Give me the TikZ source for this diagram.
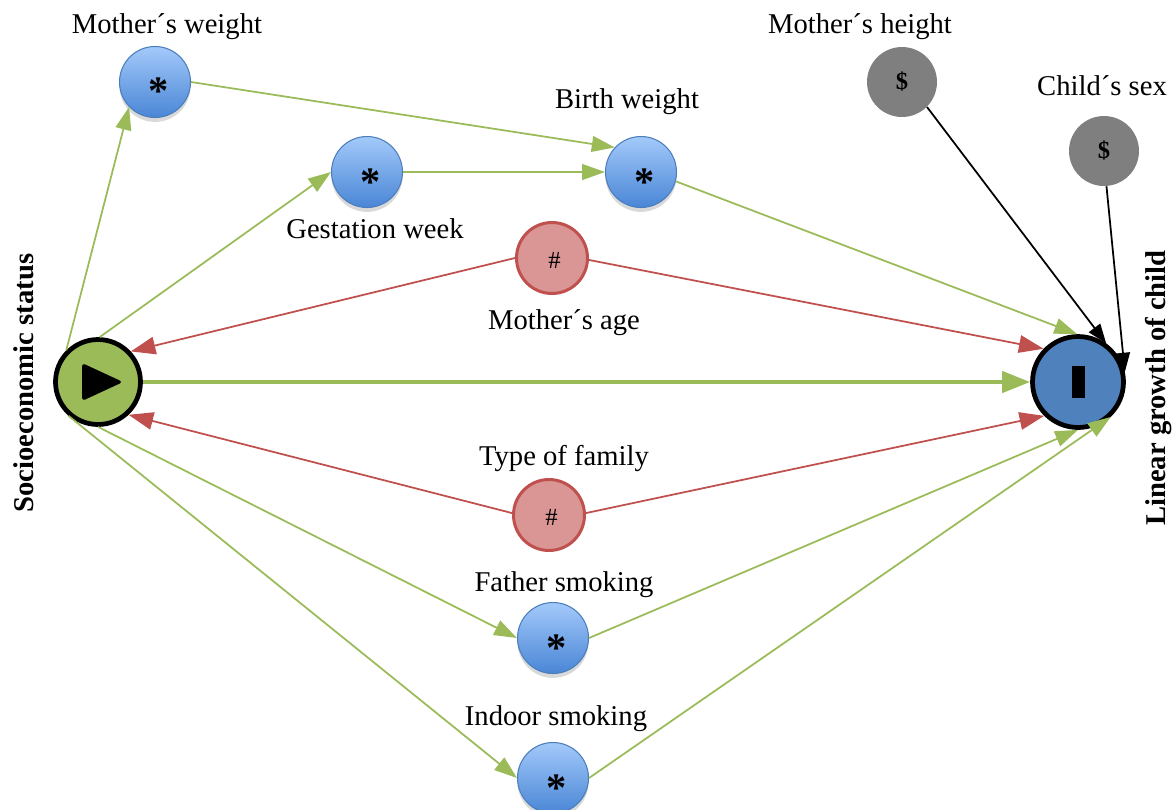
\documentclass[tikz,border=0pt]{standalone}
\usepackage{fontspec}
\setmainfont{Liberation Serif}
\usetikzlibrary{arrows.meta,shadows}
\definecolor{dagGreen}{HTML}{9BBB59}
\definecolor{outBlue}{HTML}{4F81BD}
\definecolor{medTop}{HTML}{A3C9FA}
\definecolor{medBottom}{HTML}{4A86D6}
\definecolor{medBorder}{HTML}{4A7EBB}
\definecolor{confLine}{HTML}{C0504D}
\definecolor{confFill}{HTML}{D99694}
\definecolor{covGray}{HTML}{7F7F7F}

\begin{document}
\begin{tikzpicture}
  [x=0.02cm,y=-0.02cm,every node/.style={font=\fontsize{16.3}{19}\selectfont}]
 \tikzset{expo/.style = {circle,inner sep=0pt,minimum size=1.7cm,draw=black,line width=2.7pt,fill=dagGreen},
   outc/.style = {circle,inner sep=0pt,minimum size=1.82cm,draw=black,line width=2.7pt,fill=outBlue},
   med/.style = {circle,inner sep=0pt,minimum size=1.42cm,draw=medBorder,line width=0.6pt,
     top color=medTop,bottom color=medBottom,
     drop shadow={shadow xshift=0pt,shadow yshift=-2.5pt,opacity=0.25,fill=black!60}},
   conf/.style = {circle,inner sep=0pt,minimum size=1.42cm,draw=confLine,line width=1.7pt,fill=confFill},
   cov/.style = {circle,inner sep=0pt,minimum size=1.4cm,fill=covGray},
   astlabel/.style = {label={[font=\fontsize{23}{23}\bfseries\selectfont,xshift=2.2pt,yshift=-5.5pt]center:*}},
   hashlabel/.style = {label={[font=\fontsize{14}{14}\selectfont,xshift=1.5pt,yshift=-1.5pt]center:\#}},
   dollarlabel/.style = {label={[font=\fontsize{14}{14}\bfseries\selectfont]center:\$}},
   lbl/.style = {anchor=base},
   side/.style = {font=\fontsize{16.3}{19}\bfseries\selectfont,rotate=90},
   edge/.style = {draw=dagGreen,line width=1pt,-{Triangle[length=13pt,width=9pt]}},
   mainedge/.style = {draw=dagGreen,line width=2.5pt,-{Triangle[length=16pt,width=12pt]}},
   redge/.style = {draw=confLine,line width=1pt,-{Triangle[length=14pt,width=10pt]}},
   bedge/.style = {draw=black,line width=1pt,-{Triangle[length=11pt,width=8pt]}}}
  \useasboundingbox (0,0) rectangle (1176,809);

  \node[expo] (exp) at (98,382) {};
  \node[outc] (out) at (1078,382) {\rule{0.26cm}{0.64cm}};
  \node[med,astlabel] (mw) at (155,82) {};
  \node[med,astlabel] (gw) at (367,172) {};
  \node[med,astlabel] (bw) at (641,172) {};
  \node[conf,hashlabel] (ma) at (552,258) {};
  \node[conf,hashlabel] (tf) at (549,515) {};
  \node[med,astlabel] (fs) at (553,638) {};
  \node[med,astlabel] (is) at (553,778) {};
  \node[cov,dollarlabel] (mh) at (902,82) {};
  \node[cov,dollarlabel] (cs) at (1104,151) {};
  \fill[rounded corners=2pt] ([shift={(-16,-19)}]exp.center) -- ([shift={(25,0)}]exp.center)
    -- ([shift={(-16,19)}]exp.center) -- cycle;

  \node[lbl] (mwl) at (167,33) {Mother´s weight};
  \node[lbl] (bwl) at (627,108) {Birth weight};
  \node[lbl] (gwl) at (375,238) {Gestation week};
  \node[lbl] (mal) at (564,329) {Mother´s age};
  \node[lbl] (tfl) at (564,465) {Type of family};
  \node[lbl] (fsl) at (564,591) {Father smoking};
  \node[lbl] (isl) at (556,725) {Indoor smoking};
  \node[lbl] (mhl) at (860,33) {Mother´s height};
  \node[lbl] (csl) at (1102,95) {Child´s sex};
  \node[side] (sesl) at (24,383) {Socioeconomic status};
  \node[side] (lgl) at (1159,388) {Linear growth of child};

  \draw[mainedge] (exp) -- (out);
  \foreach \from/\to in {exp.135/mw.224,exp.88/gw.180,mw.0/bw.137,gw.0/bw.180,bw.-15/out.91,
      exp.270/fs.180,exp.229/is.180,fs.0/out.270,is.0/out.313}
    \draw[edge] (\from) -- (\to);
  \foreach \from/\to in {ma.180/exp.43,ma.-3/out.136,tf.177/exp.313,tf.3/out.225}
    \draw[redge] (\from) -- (\to);
  \foreach \from/\to in {mh.-45/out.54,cs.-86/out.12}
    \draw[bedge] (\from) -- (\to);

\end{tikzpicture}
\end{document}
